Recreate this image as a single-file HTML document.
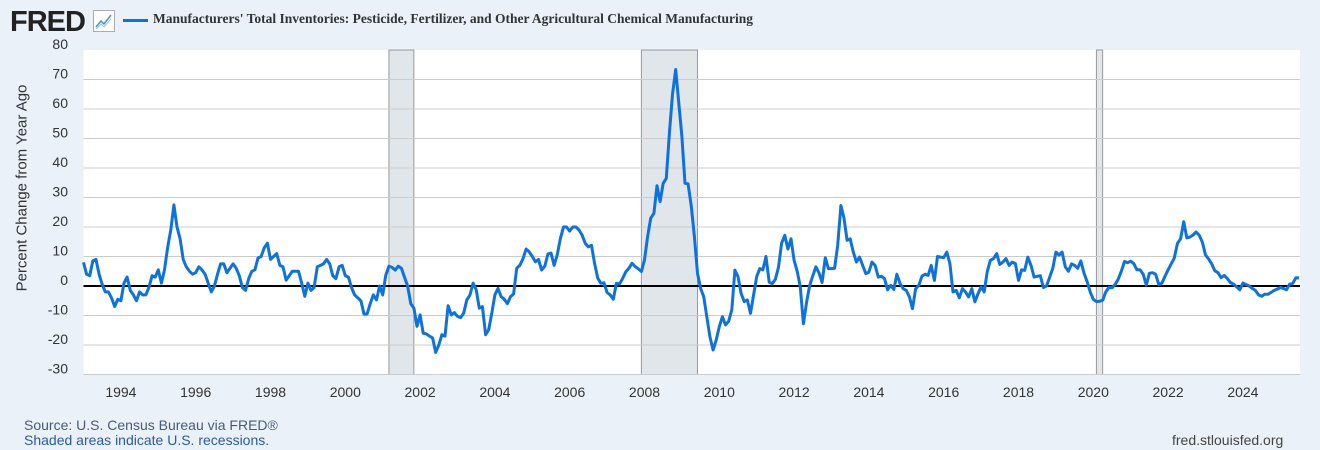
<!DOCTYPE html>
<html><head><meta charset="utf-8"><style>
body{margin:0;width:1320px;height:450px;background:#eaf1f9;font-family:"Liberation Sans",sans-serif;overflow:hidden;position:relative}
.t{position:absolute;white-space:nowrap}
</style></head><body>
<div class="t" style="left:10px;top:6px;font-size:29px;font-weight:bold;letter-spacing:-1px;color:#222">FRED</div>
<svg class="t" style="left:93px;top:10px" width="22" height="22"><rect x="0.5" y="0.5" width="21" height="21" fill="#fff" stroke="#aab"/><polyline points="3,17 8,11 11,14 18,5" fill="none" stroke="#4a90d9" stroke-width="1.5"/><polyline points="3,19 8,14 11,17 18,9" fill="none" stroke="#9cc3ee" stroke-width="1"/></svg>
<div class="t" style="left:123px;top:19px;width:25px;height:3px;background:#0d72e0"></div>
<div class="t" style="left:153px;top:11px;font-family:'Liberation Serif',serif;font-weight:bold;font-size:13.5px;color:#333">Manufacturers' Total Inventories: Pesticide, Fertilizer, and Other Agricultural Chemical Manufacturing</div>
<div class="t" style="left:22px;top:188px;transform:translate(-50%,-50%) rotate(-90deg);font-size:15px;color:#333">Percent Change from Year Ago</div>
<svg id="c" class="t" style="left:0;top:0" width="1320" height="450"></svg>
<div class="t" style="left:24px;top:417px;font-size:14px;color:#4a5a78">Source: U.S. Census Bureau via FRED®</div>
<div class="t" style="left:24px;top:432px;font-size:14px;color:#2a5aa8">Shaded areas indicate U.S. recessions.</div>
<div class="t" style="left:1172px;top:432px;font-size:14px;color:#444">fred.stlouisfed.org</div>
<script>
const values=[8,4,3.5,8.5,9,4,0.5,-2,-2,-4,-7,-4.5,-5,1,3,-1.5,-3,-5,-2,-3,-3,-0.5,3.5,3,5.5,1,5.5,13,19,27.5,20,16,9,6.5,5,4,4.5,6.5,5.5,4,1,-2,0,4,7.5,7.5,4.5,6,7.5,6,3.5,-0.5,-1.5,2.5,5,5.5,9.5,10,13,14.5,9,10,11,7,6.5,2,3.5,5,5,5,1,-3.5,1,-1.5,-0.5,6.5,7,7.5,9,7.5,3.5,2.5,6.5,7,3.5,3,-0.5,-3,-4,-5,-9.5,-9.5,
-6,-3,-4.7,0,-3,3.7,6.7,6.3,5.4,6.7,6,3,0,-6,-7.5,-13.7,-9.8,-16,-16.2,-17,-17.6,-22.5,-20,-16.5,-17,-6.7,-9.8,-9,-10.3,-10.7,-9.2,-4.7,-3,1,-1.3,-7.5,-7,-16.5,-14.8,-9.2,-3,-0.8,-3.6,-4.5,-6,-3.6,-2.7,6,7,9.3,12.5,11.6,10,8.2,9,5.4,6.7,10.8,11.2,7,10.5,16,20,20,18.6,20,20,19,17.2,14.4,13.3,13.8,7.6,2.6,0.9,1.1,-2.2,-3,-4.5,0.9,0.7,2.6,4.8,
6,7.7,6.6,5.8,4.9,8.8,16.7,23,24.6,34,28.6,34.8,36.5,51.8,65,73.4,62,50.6,34.8,34.6,27,16.7,4.3,-0.8,-3.6,-10.4,-17.2,-21.7,-18.3,-13.8,-10.4,-13.2,-12,-8.1,5.4,3.2,-2.5,-5.3,-4.7,-9.3,-3,3.2,
5.9,5.5,10,1.3,0.8,2.3,6.4,14.5,17.2,12.5,16,8.7,5,-0.3,-12.8,-5.5,0.2,3.5,6.5,4.4,1.2,9.6,5.9,5.9,6,13.8,27.3,23,15.5,16,11.5,8.1,9.8,7,4.2,4.7,8.1,7,3,3.3,2.5,-1.3,0.2,-1.2,4,0.8,-0.9,-1.5,-3.7,-7.7,-1,0.2,3.3,4,3.6,7,1.9,10,9.8,9.6,11.5,7.6,-2,-1.5,-4,-0.9,-2,-3.7,-0.9,-5.4,-2.6,-0.3,-2,5,8.7,9.3,11,7.3,8.1,9.3,7,8.1,7.6,1.9,5.5,5.3,9.8,
7,3,3.3,3.5,-0.5,0,3,6,11.5,10.5,11.5,6.5,5,7.5,7,6,8.5,4.5,1.5,-2,-4.5,-5.3,-5.2,-4.8,-2,-0.5,-0.6,0.5,2.3,5,8.3,7.9,8.4,7.6,5.5,5.5,4,0.3,4.3,4.5,4,0.5,1,3.3,5.5,7.5,9.5,14.5,16,21.8,16.3,16.6,17.3,18.3,17.2,14.8,10.5,9.2,7.5,5.2,4.5,2.8,3.6,2.5,1.2,0.6,-0.3,-1.3,1,0.5,0,-0.8,-1.5,-3,-3.5,-2.8,-2.8,-2.2,-1.5,-1.1,-0.5,-0.8,-1.3,0.6,0.9,2.8,2.7];
const startYear=1993;
const yTicks=[80,70,60,50,40,30,20,10,0,-10,-20,-30];
const xTickYears=[1994,1996,1998,2000,2002,2004,2006,2008,2010,2012,2014,2016,2018,2020,2022,2024];
const recessions=[[2001+2/12,2001+10/12],[2007+11/12,2009+5/12],[2020+1/12,2020+3/12]];
const L=83.5,R=1300,T=50,B=374.5;
const x=t=>L+(t-startYear)*37.4;
const y=v=>T+(80-v)*(B-T)/110;
const s=document.getElementById('c');const NS='http://www.w3.org/2000/svg';
function mk(tag,at){const e=document.createElementNS(NS,tag);for(const k in at)e.setAttribute(k,at[k]);s.appendChild(e);return e;}
let bg=mk('rect',{x:L,y:T,width:R-L,height:B-T,fill:'#fff'});


recessions.forEach(r=>{const e=mk('rect',{x:x(r[0]),y:T,width:x(r[1])-x(r[0]),height:B-T,fill:'#e1e6eb',stroke:'#999','stroke-width':1});

});
yTicks.forEach(v=>{if(v!==0&&v!==80){const g=mk('line',{x1:L,x2:R,y1:y(v),y2:y(v),stroke:'#ccc','stroke-width':1});

}
const t=mk('text',{x:68,y:y(v)-1,'text-anchor':'end','font-size':14,fill:'#333','font-family':'Liberation Sans'});t.textContent=v;

});
xTickYears.forEach(yr=>{const t=mk('text',{x:x(yr),y:397,'text-anchor':'middle','font-size':14,fill:'#333','font-family':'Liberation Sans'});t.textContent=yr;

});
const z=mk('line',{x1:L,x2:R,y1:y(0),y2:y(0),stroke:'#000','stroke-width':2});


const pts=values.map((v,i)=>x(startYear+i/12).toFixed(1)+','+y(v).toFixed(1)).join(' ');
const ln=mk('polyline',{points:pts,fill:'none',stroke:'#0d72e0','stroke-width':3,'stroke-linejoin':'round'});


</script>
</body></html>
